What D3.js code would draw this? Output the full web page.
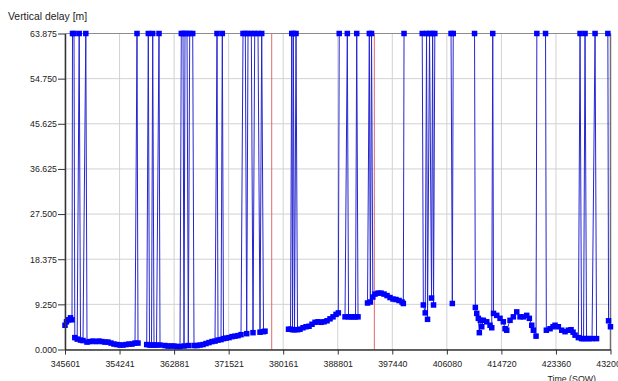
<!DOCTYPE html>
<html>
<head>
<meta charset="utf-8">
<script src="https://cdn.jsdelivr.net/npm/d3@7"></script>
<style>
  html, body { margin: 0; padding: 0; background: #fff; overflow: hidden; }
  svg { display: block; }
  text { font-family: "Liberation Sans", Arial, sans-serif; }
</style>
</head>
<body>
<svg id="chart" width="618" height="381"></svg>
<script>
// Ceiling value: samples without a valid estimate are pinned here
const CEILING = 63.875;

// Time axis (seconds of week)
const sowTicks = [345601, 354241, 362881, 371521, 380161, 388801, 397440, 406080, 414720, 423360, 432000];
const sowTickLabels = ["345601", "354241", "362881", "371521", "380161", "388801", "397440", "406080", "414720", "423360", "432000"];

// Delay axis labels, evenly spaced from 0 to the ceiling
const delayTickLabels = ["0.000", "9.250", "18.375", "27.500", "36.625", "45.625", "54.750", "63.875"];

// Measured vertical delay track
const trackSow = [
  345601, 345839, 346155, 346472, 346710,
  347153, 347533, 348056, 348452, 349086, 349561, 350036, 350511, 350987, 351462, 351937, 352412,
  352887, 353363, 353838, 354313, 354788, 355263, 355739, 356214, 356689, 357164,
  358542, 358986, 359303, 359699, 360095, 360649, 361441, 361916, 362391, 362867, 363342, 363817,
  364451, 365132, 366035, 366510, 366985, 367460, 367935, 368411, 368886,
  369361, 369836, 370311, 370707, 371103, 371579, 372054, 372529, 373004, 373479, 374382,
  375380, 376489, 377043, 377281,
  381003, 381320, 381637, 381954, 382429, 382825, 383300, 383775, 384251, 384726, 385201, 385676,
  386151, 386627, 387102, 387577, 388052, 388527, 388892,
  389953, 390507, 390903, 391299, 391616, 392012,
  393517, 393961, 394357, 394705, 395180, 395655, 396131, 396606, 397081, 397556, 398031, 398507,
  398982, 399188,
  402356, 402657, 403021, 403655, 403971,
  406949,
  410593, 410814, 411068, 411226, 411385, 411606, 411860, 412398, 412921, 413190, 413475, 413982,
  414505, 415028, 415297, 415566, 416089, 416612, 417150, 417673, 418196, 418734, 419146, 419526,
  419780, 420207,
  421839, 422425, 422900, 423217, 423740, 424278, 424801, 425324, 425751, 426068, 426385, 426908,
  427415, 427731, 428207, 428603, 429078, 429791,
  431691, 431995
];
const trackDelay = [
  4.9, 5.6, 6.0, 6.4, 6.0,
  2.4, 2.1, 1.9, 1.8, 1.5, 1.6, 1.7, 1.6, 1.7, 1.6, 1.5, 1.5,
  1.3, 1.1, 1.0, 0.9, 0.9, 1.0, 1.1, 1.1, 1.3, 1.3,
  1.0, 0.9, 0.9, 0.9, 0.9, 0.9, 0.8, 0.7, 0.7, 0.7, 0.6, 0.6,
  0.7, 0.8, 0.8, 0.8, 0.9, 1.0, 1.2, 1.4, 1.6,
  1.7, 1.9, 2.0, 2.2, 2.3, 2.4, 2.6, 2.7, 2.8, 3.0, 3.2,
  3.4, 3.5, 3.6, 3.7,
  4.1, 4.1, 4.0, 4.0, 4.0, 4.1, 4.4, 4.6, 4.7, 5.1, 5.5, 5.6,
  5.5, 5.6, 5.8, 6.2, 6.6, 7.1, 7.4,
  6.6, 6.6, 6.6, 6.6, 6.6, 6.6,
  9.4, 9.6, 10.6, 11.2, 11.4, 11.4, 11.2, 10.9, 10.5, 10.2, 10.1, 9.9,
  9.6, 9.3,
  9.0, 7.4, 6.1, 10.4, 9.0,
  9.3,
  8.5, 7.3, 6.3, 3.4, 5.9, 4.6, 5.9, 5.6, 4.9, 4.4, 7.3, 6.9,
  6.3, 5.6, 4.2, 3.9, 5.9, 6.6, 7.6, 6.6, 6.6, 6.9, 6.3, 4.9,
  3.9, 2.7,
  3.9, 4.2, 4.6, 4.9, 4.6, 3.9, 3.6, 3.9, 4.0, 3.5, 2.9, 2.4,
  2.2, 2.2, 2.2, 2.2, 2.2, 2.2,
  5.8, 4.6
];

// Epochs where the delay is pinned at the ceiling
const ceilingSow = [
  346789, 347027, 347850, 348896, 357006, 358796, 359493, 360491,
  364023, 364292, 364609, 364926, 365353, 365829, 369678, 370517,
  373796, 374161, 374588, 375111, 375649, 376172, 376758,
  381510, 381764, 382191, 389034, 390317, 391806, 393802, 394151, 399299,
  402181, 402863, 403338, 403829, 404177, 406743, 407092, 410466, 413349,
  420334, 421712, 427177, 427969, 429553, 431581
];

// Event markers
const eventSow = [378342, 394594];

// Samples further apart than this are not joined
const MAX_GAP = 800;

const svg = d3.select("#chart");

const x = d3.scaleLinear().domain([345601, 432000]).range([65, 610.5]);
const y = d3.scaleLinear().domain([0, CEILING]).range([349.5, 33.5]);
const delayTicks = d3.range(delayTickLabels.length).map(i => i * CEILING / (delayTickLabels.length - 1));

// Grid
const grid = svg.append("g").attr("stroke", "#d2d2d2").attr("stroke-width", 1);
grid.selectAll("line.v").data(sowTicks).join("line")
  .attr("x1", d => x(d)).attr("x2", d => x(d))
  .attr("y1", y(CEILING)).attr("y2", y(0));
grid.selectAll("line.h").data(delayTicks).join("line")
  .attr("x1", x.range()[0]).attr("x2", x.range()[1])
  .attr("y1", d => y(d)).attr("y2", d => y(d));

// Top and right frame
svg.append("line").attr("x1", x.range()[0]).attr("x2", x.range()[1])
  .attr("y1", y(CEILING)).attr("y2", y(CEILING)).attr("stroke", "#8c8c8c");
svg.append("line").attr("x1", x.range()[1]).attr("x2", x.range()[1])
  .attr("y1", y(CEILING)).attr("y2", y(0)).attr("stroke", "#707070").attr("stroke-width", 1.5);

// Event markers
svg.append("g").selectAll("line").data(eventSow).join("line")
  .attr("x1", d => x(d)).attr("x2", d => x(d))
  .attr("y1", y(CEILING)).attr("y2", y(0))
  .attr("stroke", "#e06a6a").attr("stroke-width", 1);

// Merge measured and ceiling samples into one time-ordered series
const samples = trackSow.map((t, i) => ({ t, v: trackDelay[i] }))
  .concat(ceilingSow.map(t => ({ t, v: CEILING })))
  .sort((a, b) => a.t - b.t);

// Split into continuous runs
const runs = [];
samples.forEach((s, i) => {
  if (i === 0 || s.t - samples[i - 1].t > MAX_GAP) runs.push([]);
  runs[runs.length - 1].push(s);
});

const line = d3.line().x(d => x(d.t)).y(d => y(d.v));
svg.append("g").selectAll("path").data(runs).join("path")
  .attr("d", line)
  .attr("fill", "none")
  .attr("stroke", "#2626cf")
  .attr("stroke-width", 1);

// Sample markers
const S = 5.5;
svg.append("g").selectAll("rect").data(samples).join("rect")
  .attr("x", d => x(d.t) - S / 2)
  .attr("y", d => y(d.v) - S / 2)
  .attr("width", S).attr("height", S)
  .attr("fill", "#0000ff");

// Axes
const xAxis = d3.axisBottom(x)
  .tickValues(sowTicks)
  .tickFormat((d, i) => sowTickLabels[i])
  .tickSize(5).tickSizeOuter(0).tickPadding(6);
const gx = svg.append("g").attr("transform", `translate(0,${y(0)})`).call(xAxis);

const yAxis = d3.axisLeft(y)
  .tickValues(delayTicks)
  .tickFormat((d, i) => delayTickLabels[i])
  .tickSize(7).tickSizeOuter(0).tickPadding(1);
const gy = svg.append("g").attr("transform", `translate(${x.range()[0]},0)`).call(yAxis);

[gx, gy].forEach(g => {
  g.select(".domain").attr("stroke", "#333").attr("stroke-width", 1.5);
  g.selectAll(".tick line").attr("stroke", "#333");
  g.selectAll(".tick text")
    .attr("fill", "#222")
    .style("font-family", "'Liberation Sans', Arial, sans-serif")
    .style("font-size", "8.8px");
});

// Axis titles
svg.append("text").attr("x", 8).attr("y", 20)
  .attr("fill", "#222").style("font-size", "10.4px")
  .text("Vertical delay [m]");
svg.append("text").attr("x", 596).attr("y", 382)
  .attr("text-anchor", "end")
  .attr("fill", "#222").style("font-size", "8.8px")
  .text("Time (SOW)");
</script>
</body>
</html>
